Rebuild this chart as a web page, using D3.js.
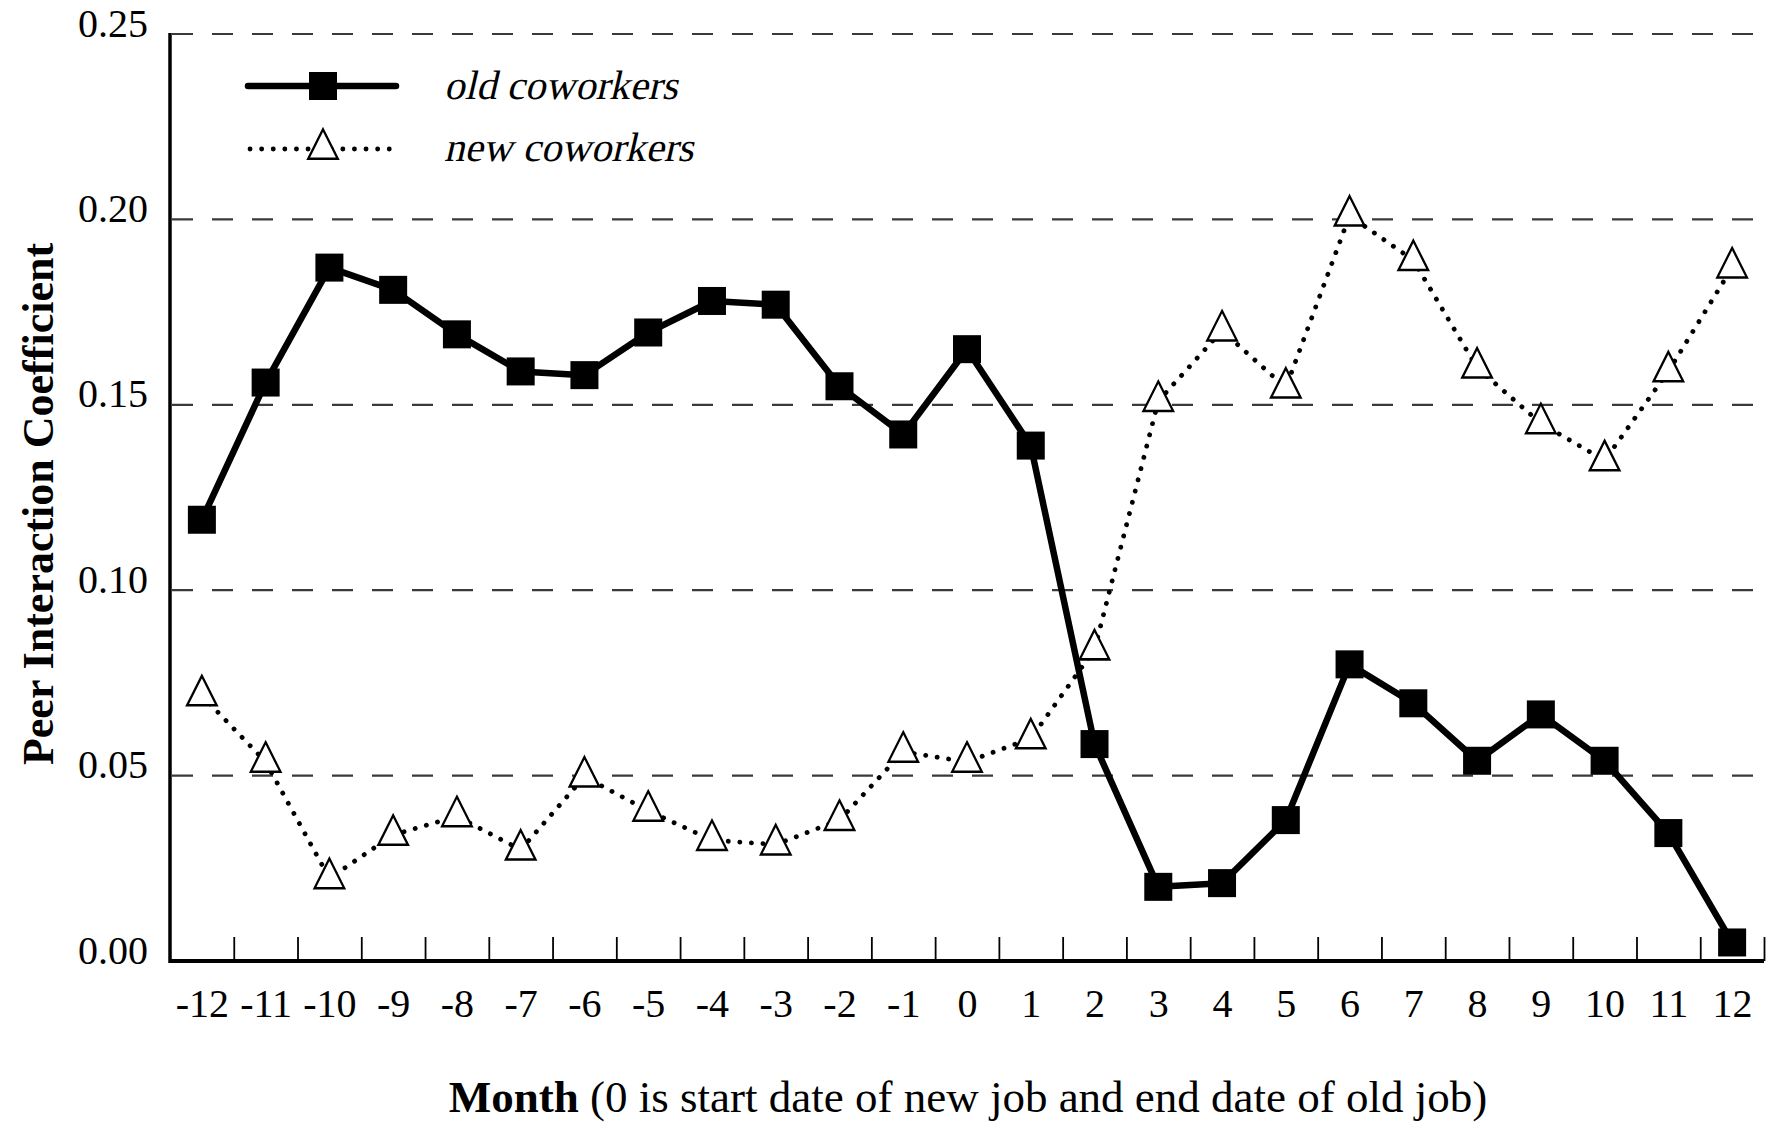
<!DOCTYPE html>
<html>
<head>
<meta charset="utf-8">
<script src="https://cdn.jsdelivr.net/npm/d3@7"></script>
<style>
  body { margin: 0; background: #fff; }
  text { font-family: "Liberation Serif", "DejaVu Serif", serif; fill: #000; }
</style>
</head>
<body>
<svg id="chart"></svg>
<script>
// months relative to start of new job
const months = d3.range(-12, 13)

// peer interaction coefficient, old coworkers
const oldCoworkers = [0.119, 0.156, 0.187, 0.181, 0.169, 0.159, 0.158, 0.1695, 0.178, 0.177,
    0.155, 0.142, 0.165, 0.139, 0.0585, 0.020, 0.021, 0.038, 0.080, 0.0695, 0.054, 0.0665, 0.054, 0.0345, 0.005]

// peer interaction coefficient, new coworkers
const newCoworkers = [0.0716, 0.0537, 0.0223, 0.034, 0.039, 0.030, 0.0497, 0.0405, 0.0326, 0.0314,
    0.038, 0.0564, 0.0537, 0.060, 0.084, 0.151, 0.170, 0.1546, 0.201, 0.189, 0.160, 0.145, 0.135, 0.159, 0.187]

const yTicks = [0, 0.05, 0.10, 0.15, 0.20, 0.25]
const legendLabels = ["old coworkers", "new coworkers"]

const drawChart = () => {
    const width = 1775
    const height = 1123
    const left = 170, right = 1764, top = 34, bottom = 961

    const svg = d3.select('#chart')
        .attr('width', width)
        .attr('height', height)

    const x = d3.scaleLinear()
        .domain([-12.5, 12.5])
        .range([left, right])

    const y = d3.scaleLinear()
        .domain([0, 0.25])
        .range([bottom, top])

    // dashed grid lines
    svg.append('g')
        .selectAll('line')
        .data(yTicks.filter(d => d > 0))
        .join('line')
        .attr('x1', left + 2)
        .attr('x2', right)
        .attr('y1', d => y(d))
        .attr('y2', d => y(d))
        .attr('stroke', '#3a3a3a')
        .attr('stroke-width', 2.2)
        .attr('stroke-dasharray', '21 19')

    // y axis
    const yAxis = svg.append('g')
        .attr('transform', `translate(${left},0)`)
        .call(d3.axisLeft(y).tickValues(yTicks).tickSize(0).tickPadding(22).tickFormat(d3.format('.2f')))
    yAxis.select('.domain').remove()
    yAxis.selectAll('text')
        .attr('font-size', 40)
        .attr('font-family', '"Liberation Serif", serif')
        .attr('dy', '0.05em')

    svg.append('line')
        .attr('x1', left).attr('x2', left)
        .attr('y1', top - 1).attr('y2', bottom + 2)
        .attr('stroke', '#000').attr('stroke-width', 3.5)

    // x axis tick marks on band boundaries
    const xTickAxis = svg.append('g')
        .attr('transform', `translate(0,${bottom})`)
        .call(d3.axisBottom(x).tickValues(d3.range(-11.5, 13, 1)).tickSize(-24).tickFormat(''))
    xTickAxis.select('.domain').remove()
    xTickAxis.selectAll('line').attr('stroke', '#000').attr('stroke-width', 1.8)

    // x labels (plain hyphen minus, like the original)
    const xLabelAxis = svg.append('g')
        .attr('transform', `translate(0,${bottom})`)
        .call(d3.axisBottom(x).tickValues(months).tickSize(0).tickPadding(26).tickFormat(d => String(d)))
    xLabelAxis.select('.domain').remove()
    xLabelAxis.selectAll('text')
        .attr('font-size', 40)
        .attr('font-family', '"Liberation Serif", serif')
        .attr('dy', '0.75em')

    svg.append('line')
        .attr('x1', left - 1).attr('x2', right)
        .attr('y1', bottom).attr('y2', bottom)
        .attr('stroke', '#000').attr('stroke-width', 4)

    const oldPts = months.map((m, i) => ({ m, v: oldCoworkers[i] }))
    const newPts = months.map((m, i) => ({ m, v: newCoworkers[i] }))

    const line = d3.line()
        .x(d => x(d.m))
        .y(d => y(d.v))

    // new coworkers: dotted line with open triangles
    svg.append('path')
        .datum(newPts)
        .attr('d', line)
        .attr('fill', 'none')
        .attr('stroke', '#000')
        .attr('stroke-width', 4.8)
        .attr('stroke-linecap', 'round')
        .attr('stroke-dasharray', '0.1 11.5')

    const tri = d3.symbol().type(d3.symbolTriangle).size(380)

    svg.append('g')
        .selectAll('path')
        .data(newPts)
        .join('path')
        .attr('d', tri)
        .attr('transform', d => `translate(${x(d.m)},${y(d.v)}) scale(1,1.15)`)
        .attr('fill', '#fff')
        .attr('stroke', '#000')
        .attr('stroke-width', 2.2)

    // old coworkers: thick solid line with squares
    svg.append('path')
        .datum(oldPts)
        .attr('d', line)
        .attr('fill', 'none')
        .attr('stroke', '#000')
        .attr('stroke-width', 6.5)
        .attr('stroke-linejoin', 'round')

    const sq = 28
    svg.append('g')
        .selectAll('rect')
        .data(oldPts)
        .join('rect')
        .attr('x', d => x(d.m) - sq / 2)
        .attr('y', d => y(d.v) - sq / 2)
        .attr('width', sq)
        .attr('height', sq)
        .attr('fill', '#000')

    // legend
    const lg = svg.append('g')
    lg.append('line')
        .attr('x1', 248).attr('x2', 396).attr('y1', 86).attr('y2', 86)
        .attr('stroke', '#000').attr('stroke-width', 6.5).attr('stroke-linecap', 'round')
    lg.append('rect')
        .attr('x', 323 - sq / 2).attr('y', 86 - sq / 2)
        .attr('width', sq).attr('height', sq).attr('fill', '#000')
    lg.append('line')
        .attr('x1', 250).attr('x2', 390).attr('y1', 149).attr('y2', 149)
        .attr('stroke', '#000').attr('stroke-width', 4.8)
        .attr('stroke-linecap', 'round').attr('stroke-dasharray', '0.1 11.5')
    lg.append('path')
        .attr('d', tri)
        .attr('transform', 'translate(323,149) scale(1,1.15)')
        .attr('fill', '#fff').attr('stroke', '#000').attr('stroke-width', 2.2)
    // italic face is missing for Liberation Serif, so slant the upright one
    lg.selectAll('text')
        .data(legendLabels)
        .join('text')
        .attr('transform', (d, i) => `translate(444,${99 + i * 62}) skewX(-13)`)
        .attr('font-size', 41)
        .text(d => d)

    // axis titles
    const xt = svg.append('text')
        .attr('x', 968)
        .attr('y', 1112)
        .attr('text-anchor', 'middle')
        .attr('font-size', 45)
    xt.append('tspan').attr('font-weight', 'bold').text('Month')
    xt.append('tspan').text(' (0 is start date of new job and end date of old job)')

    svg.append('text')
        .attr('transform', 'translate(53,504) rotate(-90)')
        .attr('text-anchor', 'middle')
        .attr('font-size', 44)
        .attr('font-weight', 'bold')
        .text('Peer Interaction Coefficient')
}

drawChart()
</script>
</body>
</html>
